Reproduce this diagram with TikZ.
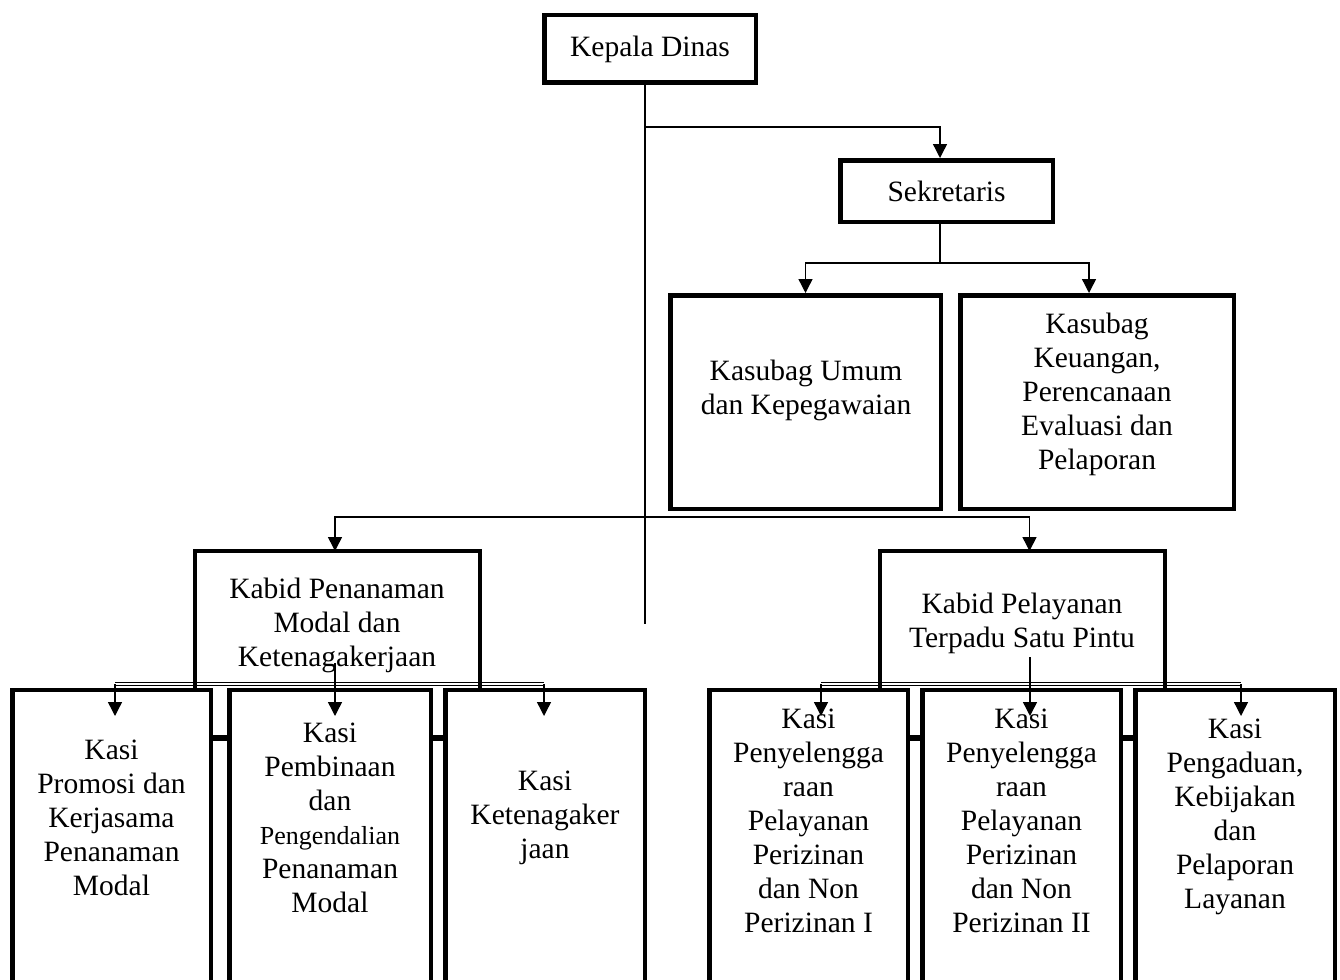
\documentclass[tikz,border=0pt]{standalone}
\usepackage{fontspec}
\setmainfont{Liberation Serif}
\usetikzlibrary{arrows.meta}
\newcommand\orgfont{\fontsize{29.5}{34}\selectfont}
\newcommand\smallorg{\fontsize{26}{34}\selectfont}
\begin{document}
\begin{tikzpicture}[x=1pt,y=-1pt,
  box/.style={draw, line width=4.5pt, fill=white, inner sep=0pt, align=center, font=\orgfont},
  backbox/.style={fill=white, inner sep=0pt},
  sides/.style={line width=4.5pt},
  label/.style={inner sep=0pt, align=center, font=\orgfont},
  conn/.style={line width=1.4pt},
  arr/.style={conn, -{Triangle[width=14pt,length=14pt]}},
  dbl/.style={line width=0.9pt, double, double distance=2.2pt},
  gapbar/.style={line width=6pt}]
\useasboundingbox (0,0) rectangle (1340,979);
\clip (0,0) rectangle (1340,979);

% bars visible between the Kasi boxes
\coordinate (barL1) at (10,738);
\coordinate (barL2) at (647,738);
\coordinate (barR1) at (707,738);
\coordinate (barR2) at (1337,738);
\draw[gapbar] (barL1) -- (barL2);
\draw[gapbar] (barR1) -- (barR2);

% upper boxes
\node[box, minimum width=211.5pt, minimum height=67.5pt] (kd) at (650,49) {Kepala Dinas};
\node[box, minimum width=212.5pt, minimum height=61.5pt] (sek) at (946.5,191) {Sekretaris};
\node[box, minimum width=270.5pt, minimum height=213.5pt] (ku) at (805.5,402) {};
\node[box, minimum width=273.5pt, minimum height=213.5pt] (kk) at (1097,402) {};

% Kabid boxes (background)
\node[backbox, minimum width=284.5pt, minimum height=138.75pt] (kpm) at (337.5,620.6) {};
\node[backbox, minimum width=284.5pt, minimum height=138.75pt] (kpl) at (1022.5,620.6) {};

% double distribution lines
\coordinate (c1) at (115,684);
\coordinate (c3) at (544,684);
\coordinate (c4) at (821,684);
\coordinate (c6) at (1241,684);
\draw[dbl] (c1) -- (c3);
\draw[dbl] (c4) -- (c6);

% Kabid box sides
\draw[sides] (kpm.south west) -- (kpm.north west) -- (kpm.north east) -- (kpm.south east);
\draw[sides] (kpl.south west) -- (kpl.north west) -- (kpl.north east) -- (kpl.south east);

% Kasi boxes
\node[box, minimum width=198.5pt, minimum height=309.75pt] (k1) at (111.5,845.1) {};
\node[box, minimum width=201.5pt, minimum height=309.75pt] (k2) at (330,845.1) {};
\node[box, minimum width=199.5pt, minimum height=309.75pt] (k3) at (545,845.1) {};
\node[box, minimum width=198.5pt, minimum height=309.75pt] (k4) at (808.5,845.1) {};
\node[box, minimum width=198.5pt, minimum height=309.75pt] (k5) at (1021.5,845.1) {};
\node[box, minimum width=199.5pt, minimum height=309.75pt] (k6) at (1235,845.1) {};

% texts
\node[label] (kut) at (806,390) {Kasubag Umum\\dan Kepegawaian};
\node[label] (kkt) at (1097,394) {Kasubag\\Keuangan,\\Perencanaan\\Evaluasi dan\\Pelaporan};
\node[label] (kpmt) at (337,625) {Kabid Penanaman\\Modal dan\\Ketenagakerjaan};
\node[label] (kplt) at (1022,623.5) {Kabid Pelayanan\\Terpadu Satu Pintu};
\node[label] (k1t) at (111.5,818) {Kasi\\Promosi dan\\Kerjasama\\Penanaman\\Modal};
\node[label] (k2t) at (330,817.5) {Kasi\\Pembinaan\\dan\\{\smallorg Pengendalian}\\Penanaman\\Modal};
\node[label] (k3t) at (545,818) {Kasi\\Ketenagaker\\jaan};
\node[label] (k4t) at (808.5,821) {Kasi\\Penyelengga\\raan\\Pelayanan\\Perizinan\\dan Non\\Perizinan I};
\node[label] (k5t) at (1021.5,821) {Kasi\\Penyelengga\\raan\\Pelayanan\\Perizinan\\dan Non\\Perizinan II};
\node[label] (k6t) at (1235,817) {Kasi\\Pengaduan,\\Kebijakan\\dan\\Pelaporan\\Layanan};

% connectors
\coordinate (kdend) at (645,624);
\coordinate (j1) at (645,127);
\coordinate (j2) at (940,263);
\coordinate (j3) at (645,517);
\draw[conn] (kd.south -| kdend) -- (kdend);
\draw[arr] (j1) -| ([xshift=-6.5pt]sek.north);
\draw[conn] (sek.south -| j2) -- (j2);
\draw[arr] (j2) -| (ku.north);
\draw[arr] (j2) -| ([xshift=-8pt]kk.north);
\draw[arr] (j3) -| ([xshift=-2.5pt]kpm.north);
\draw[arr] (j3) -| ([xshift=7pt]kpl.north);

\coordinate (b1) at (335,663);
\coordinate (t1) at (115,716);
\coordinate (t2) at (335,716);
\coordinate (t3) at (544,716);
\draw[arr] (b1) -- (t2);
\draw[arr] (c1) -- (t1);
\draw[arr] (c3) -- (t3);

\coordinate (b2) at (1030,657);
\coordinate (t4) at (821,716);
\coordinate (t5) at (1030,716);
\coordinate (t6) at (1241,716);
\draw[arr] (b2) -- (t5);
\draw[arr] (c4) -- (t4);
\draw[arr] (c6) -- (t6);
\end{tikzpicture}
\end{document}
